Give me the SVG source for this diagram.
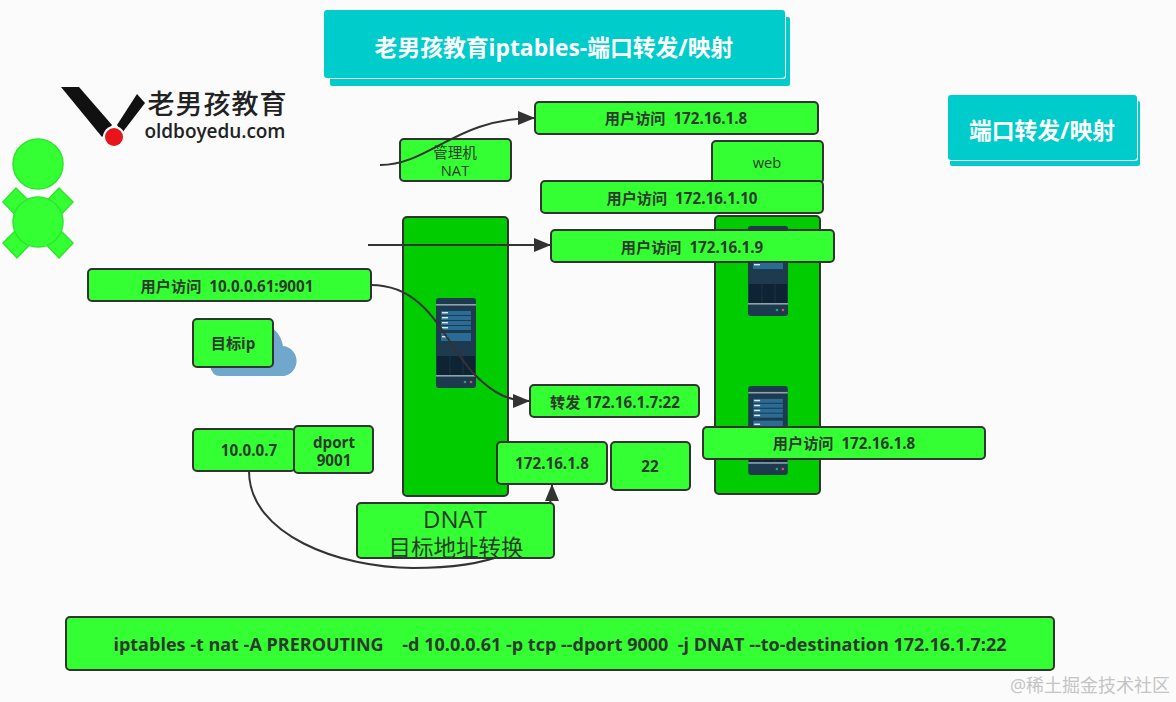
<svg xmlns="http://www.w3.org/2000/svg" width="1176" height="702" viewBox="0 0 1176 702">
<style>
text{font-family:"Open Sans","Noto Sans CJK SC",sans-serif;fill:#2b3a2b;text-anchor:middle;white-space:pre}
.b{fill:#33ff33;stroke:#333;stroke-width:2}
.c{fill:#00cc00;stroke:#333;stroke-width:2}
.l{font-size:15.2px;font-weight:700}
.m{font-size:14.7px;font-weight:400}
.t{fill:#00cccc}
.w{fill:#fff;font-weight:700;font-size:22.8px}
.p{fill:#33ff33;stroke:#2ee62e;stroke-width:1.5}
.e{fill:none;stroke:#333;stroke-width:2}
.k{fill:#111}
</style>
<defs>
<marker id="a" markerUnits="userSpaceOnUse" markerWidth="18" markerHeight="14" refX="17" refY="7" orient="auto"><path d="M0 0L17 7L0 14Z" fill="#333"/></marker>
<symbol id="srv" viewBox="0 0 40 90" overflow="visible">
<rect width="40" height="90" rx="3" fill="#1d3a4e"/>
<rect y="6" width="40" height="1.6" fill="#8fa3ad"/>
<rect x="5" y="13" width="30" height="4" fill="#2a6c96"/><rect x="5" y="18" width="30" height="4" fill="#2a6c96"/>
<rect x="5" y="23" width="30" height="4" fill="#2a6c96"/><rect x="5" y="28" width="30" height="4" fill="#2a6c96"/>
<rect x="5" y="35" width="30" height="8" fill="#2a6c96"/>
<rect x="6" y="14" width="6" height="1.4" fill="#dfe8ee"/><rect x="6" y="19" width="6" height="1.4" fill="#dfe8ee"/>
<rect x="6" y="24" width="6" height="1.4" fill="#dfe8ee"/><rect x="6" y="29" width="6" height="1.4" fill="#dfe8ee"/>
<rect x="6" y="38" width="6" height="1.4" fill="#dfe8ee"/>
<rect x="1" y="58" width="38" height="19" fill="#0e2333"/>
<path d="M14 58V77M27 58V77" stroke="#1d3a4e" stroke-width=".8"/>
<rect y="77" width="40" height="1.6" fill="#8fa3ad"/>
<circle cx="29" cy="84" r="1.3" fill="#2f9e7c"/><circle cx="35" cy="84" r="1.3" fill="#d8505f"/>
</symbol>
</defs>
<rect width="1176" height="702" fill="#fbfbfb"/>

<g id="title">
<rect class="t" x="330" y="17" width="460" height="69" rx="2"/>
<rect x="323" y="9" width="463" height="70" rx="3" fill="#fbfbfb"/>
<rect class="t" x="324" y="10" width="461" height="68" rx="3"/>
<text class="w" x="554" y="56">老男孩教育iptables-端口转发/映射</text>
</g>
<g id="legend">
<rect class="t" x="950" y="101" width="190" height="65" rx="2"/>
<rect x="947" y="94" width="191" height="67" rx="3" fill="#fbfbfb"/>
<rect class="t" x="948" y="95" width="189" height="65" rx="3"/>
<text class="w" x="1042" y="139">端口转发/映射</text>
</g>
<g id="logo">
<path class="k" d="M61 87H79L112 125L102 137Z"/>
<path class="k" d="M137 94L145 103L122 133L117 125Z"/>
<circle cx="114" cy="137" r="11" fill="#fff"/>
<circle cx="114" cy="137" r="9" fill="#e8141c"/>
<text x="217" y="114" style="font-size:27px;fill:#222;font-weight:500" textLength="139">老男孩教育</text>
<text x="215" y="138" style="font-size:19px;fill:#222;font-weight:600" textLength="141">oldboyedu.com</text>
</g>
<g id="person">
<circle class="p" cx="38" cy="164" r="25"/>
<path class="p" d="M3 202L16 188L38 210L24 224Z"/>
<path class="p" d="M73 202L59 188L38 210L52 224Z"/>
<path class="p" d="M3 243L17 258L38 236L24 222Z"/>
<path class="p" d="M73 243L59 258L38 236L52 222Z"/>
<circle class="p" cx="38" cy="222" r="25"/>
</g>
<g id="cloud"><path d="M220 376H280A15 15 0 0 0 283 346Q280 330 266 325H220V360L210 366Q212 376 220 376Z" fill="#6fa8cb"/></g>

<g id="gateway"><rect class="c" x="403" y="217" width="105" height="279" rx="4"/><use href="#srv" x="436" y="298" width="40" height="90"/></g>
<g id="backend"><rect class="c" x="715" y="216" width="105" height="278" rx="4"/><use href="#srv" x="748" y="226" width="40" height="90"/><use href="#srv" x="748" y="386" width="40" height="89"/></g>

<g id="n-admin"><rect class="b" x="400" y="139" width="111" height="42" rx="4"/><text class="m" x="455" y="158">管理机</text><text class="m" x="455" y="176">NAT</text></g>
<g id="n-user8"><rect class="b" x="535" y="102" width="283" height="32" rx="4"/><text class="l" x="676" y="124">用户访问  172.16.1.8</text></g>
<g id="n-web"><rect class="b" x="712" y="141" width="111" height="42" rx="4"/><text class="m" x="767" y="168">web</text></g>
<g id="n-user10"><rect class="b" x="541" y="181" width="282" height="32" rx="4"/><text class="l" x="682" y="204">用户访问  172.16.1.10</text></g>
<g id="n-user9"><rect class="b" x="551" y="230" width="283" height="32" rx="4"/><text class="l" x="692" y="253">用户访问  172.16.1.9</text></g>
<g id="n-user61"><rect class="b" x="88" y="269" width="283" height="32" rx="4"/><text class="l" x="227" y="292">用户访问  10.0.0.61:9001</text></g>
<g id="n-target"><rect class="b" x="193" y="319" width="80" height="48" rx="4"/><text class="l" x="233" y="349">目标ip</text></g>
<g id="n-ip7"><rect class="b" x="193" y="429" width="102" height="42" rx="4"/><text class="l" x="249" y="456">10.0.0.7</text></g>
<g id="n-dport"><rect class="b" x="294" y="426" width="79" height="47" rx="4"/><text class="l" x="334" y="448">dport</text><text class="l" x="334" y="466">9001</text></g>
<g id="n-forward"><rect class="b" x="530" y="385" width="169" height="32" rx="4"/><text class="l" x="615" y="408">转发 172.16.1.7:22</text></g>
<g id="n-ip8"><rect class="b" x="497" y="442" width="110" height="42" rx="4"/><text class="l" x="552" y="469">172.16.1.8</text></g>
<g id="n-22"><rect class="b" x="611" y="442" width="79" height="48" rx="4"/><text class="l" x="650" y="472">22</text></g>
<g id="n-user8b"><rect class="b" x="703" y="427" width="282" height="32" rx="4"/><text class="l" x="844" y="449">用户访问  172.16.1.8</text></g>
<g id="n-cmd"><rect class="b" x="66" y="617" width="988" height="53" rx="4"/><text x="560" y="651" style="font-size:18px;font-weight:700">iptables -t nat -A PREROUTING    -d 10.0.0.61 -p tcp --dport 9000  -j DNAT --to-destination 172.16.1.7:22</text></g>

<g id="connectors">
<path class="e" marker-end="url(#a)" d="M380 165C430 165 455 118 535 118"/>
<path class="e" marker-end="url(#a)" d="M368 245H551"/>
<path class="e" marker-end="url(#a)" d="M371 285C430 285 445 345 475 375C495 395 510 401 530 401"/>
<path class="e" marker-end="url(#a)" d="M249 471C249 535 340 568 413 568C470 568 552 560 552 484"/>
</g>

<g id="n-dnat"><rect class="b" x="357" y="503" width="197" height="55" rx="4"/><text x="455" y="528" style="font-size:24px">DNAT</text><text x="456" y="556" style="font-size:22.5px">目标地址转换</text></g>

<text id="watermark" x="1090" y="692" style="font-size:18px;fill:#c4c4c4">@稀土掘金技术社区</text>
</svg>
